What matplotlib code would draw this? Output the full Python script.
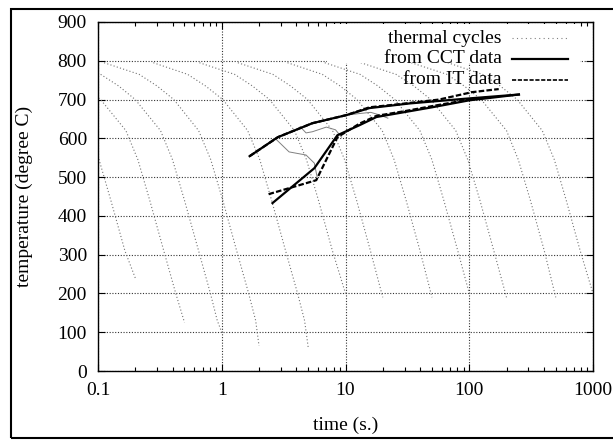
import numpy as np
import matplotlib.pyplot as plt
from matplotlib.patches import Rectangle

# thermal cycles (time s, temperature C)
cycle_t = [
    [0.014, 0.027, 0.037, 0.051, 0.081, 0.102, 0.127, 0.165, 0.2],
    [0.029, 0.055, 0.077, 0.105, 0.168, 0.21, 0.262, 0.34, 0.425, 0.5],
    [0.055, 0.105, 0.147, 0.2, 0.32, 0.40, 0.50, 0.65, 0.81, 0.92, 1.0],
    [0.112, 0.215, 0.30, 0.41, 0.65, 0.815, 1.02, 1.32, 1.65, 1.88, 2.0],
    [0.28, 0.53, 0.74, 1.02, 1.62, 2.03, 2.53, 3.28, 4.1, 4.67, 5.0],
    [0.66, 1.27, 1.77, 2.43, 3.87, 4.84, 6.05, 7.84, 10],
    [1.35, 2.59, 3.6, 4.94, 7.86, 9.83, 12.3, 15.9, 20],
    [3.4, 6.5, 9.05, 12.4, 19.8, 24.7, 30.9, 40, 50],
    [6.8, 13.1, 18.3, 25, 39.9, 49.9, 62.3, 80.8, 100],
    [13.3, 25.6, 35.7, 48.9, 77.8, 97.3, 122, 158, 200],
    [34, 66, 91, 125, 200, 249, 312, 404, 500],
    [67, 128, 178, 244, 389, 487, 608, 788, 1000],
]
cycle_T = [
    [795, 765, 735, 700, 620, 545, 440, 310, 240],
    [795, 765, 735, 700, 620, 545, 440, 310, 200, 125],
    [795, 765, 735, 700, 620, 545, 440, 310, 200, 130, 100],
    [795, 765, 735, 700, 620, 545, 440, 310, 200, 130, 65],
    [795, 765, 735, 700, 620, 545, 440, 310, 200, 130, 60],
    [795, 765, 735, 700, 620, 545, 440, 310, 200],
    [795, 765, 735, 700, 620, 545, 440, 310, 190],
    [795, 765, 735, 700, 620, 545, 440, 310, 190],
    [795, 765, 735, 700, 620, 545, 440, 310, 200],
    [795, 765, 735, 700, 620, 545, 440, 310, 190],
    [795, 765, 735, 700, 620, 545, 440, 310, 190],
    [795, 765, 735, 700, 620, 545, 440, 310, 200],
]

# transformation start / end lines from CCT data
cct_hi_t = [1.68, 2.84, 5.4, 10.2, 15.6, 33, 100, 252]
cct_hi_T = [554, 603, 639, 660, 678, 690, 703, 713]
cct_lo_t = [2.57, 5.6, 8.6, 13, 17.8, 50, 100, 252]
cct_lo_T = [433, 523, 608, 634, 655, 680, 698, 713]

# same from IT data
it_hi_t = [1.68, 2.84, 5.4, 10.2, 15.6, 27, 57, 105, 173]
it_hi_T = [554, 603, 639, 660, 680, 688, 700, 719, 727]
it_lo_t = [2.39, 5.8, 8.6, 13, 17.8, 30, 50, 100, 150]
it_lo_T = [456, 492, 603, 638, 658, 670, 683, 700, 706]

# thin traces in the transformation zone
thin1_t = [2.78, 3.5, 4.8, 5.6, 5.9]
thin1_T = [596, 565, 557, 536, 500]
thin2_t = [4.3, 4.8, 5.4, 7.0, 8.3, 9.3]
thin2_T = [630, 614, 617, 629, 622, 603]
thin3_t = [10.3, 13, 16, 19, 22]
thin3_T = [660, 664, 667, 660, 652]

xticks = [0.1, 1, 10, 100, 1000]
xlabels = ["0.1", "1", "10", "100", "1000"]
yticks = list(range(0, 1000, 100))

plt.rcParams["font.family"] = ["Liberation Serif", "DejaVu Serif"]
plt.rcParams["font.size"] = 14

fig = plt.figure(figsize=(6.13, 4.42), dpi=100)
ax = fig.add_axes([98 / 613, 1 - 371 / 442, 495 / 613, 349 / 442])

for t, T in zip(cycle_t, cycle_T):
    ax.plot(t, T, color="0.45", lw=0.8, ls=(0, (1, 2)), zorder=1.5)

ax.add_patch(Rectangle((0.463, 0.883), 0.511, 0.11, transform=ax.transAxes,
                       facecolor="white", edgecolor="none", zorder=2))

for t, T in [(thin1_t, thin1_T), (thin2_t, thin2_T), (thin3_t, thin3_T)]:
    ax.plot(t, T, color="0.5", lw=0.7, zorder=2.5)

ax.plot(it_hi_t, it_hi_T, color="black", lw=1.6, ls=(0, (2.5, 1)), zorder=3)
ax.plot(it_lo_t, it_lo_T, color="black", lw=1.6, ls=(0, (2.5, 1)), zorder=3)
ax.plot(cct_hi_t, cct_hi_T, color="black", lw=1.6, zorder=3.2)
ax.plot(cct_lo_t, cct_lo_T, color="black", lw=1.6, zorder=3.2)

# key, gnuplot style: text right aligned, sample to the right
key_rows = [("thermal cycles", 0.954, dict(color="0.5", lw=0.8, ls=(0, (1, 3)))),
            ("from CCT data", 0.894, dict(color="black", lw=1.6)),
            ("from IT data", 0.834, dict(color="black", lw=1.2, ls=(0, (2.5, 1))))]
for label, yk, style in key_rows:
    ax.text(0.816, yk, label, transform=ax.transAxes, ha="right", va="center", zorder=4)
    ax.plot([0.836, 0.95], [yk, yk], transform=ax.transAxes, zorder=4, **style)

ax.set_xscale("log")
ax.set_xlim(0.1, 1000)
ax.set_ylim(0, 900)
ax.set_xticks(xticks)
ax.set_xticklabels(xlabels)
ax.set_yticks(yticks)
ax.tick_params(which="both", direction="in", top=True, right=True)
ax.tick_params(which="major", length=5, width=0.8)
ax.tick_params(which="minor", length=3, width=0.8)
ax.tick_params(axis="x", pad=8)
ax.tick_params(axis="y", pad=8)
ax.set_axisbelow(True)
ax.grid(True, which="major", color="0.2", lw=0.8, ls=(0, (1, 1.5)))
for s in ax.spines.values():
    s.set_linewidth(1.0)

ax.set_xlabel("time (s.)", labelpad=13)
ax.set_ylabel("temperature (degree C)", labelpad=18)

# outer frame around the whole picture (right edge runs off the canvas)
fig.patches.append(Rectangle((11 / 613, 4 / 442), 1.0, 429 / 442, transform=fig.transFigure,
                             facecolor="none", edgecolor="black", lw=1.5))

fig.savefig("out.png", dpi=100)
